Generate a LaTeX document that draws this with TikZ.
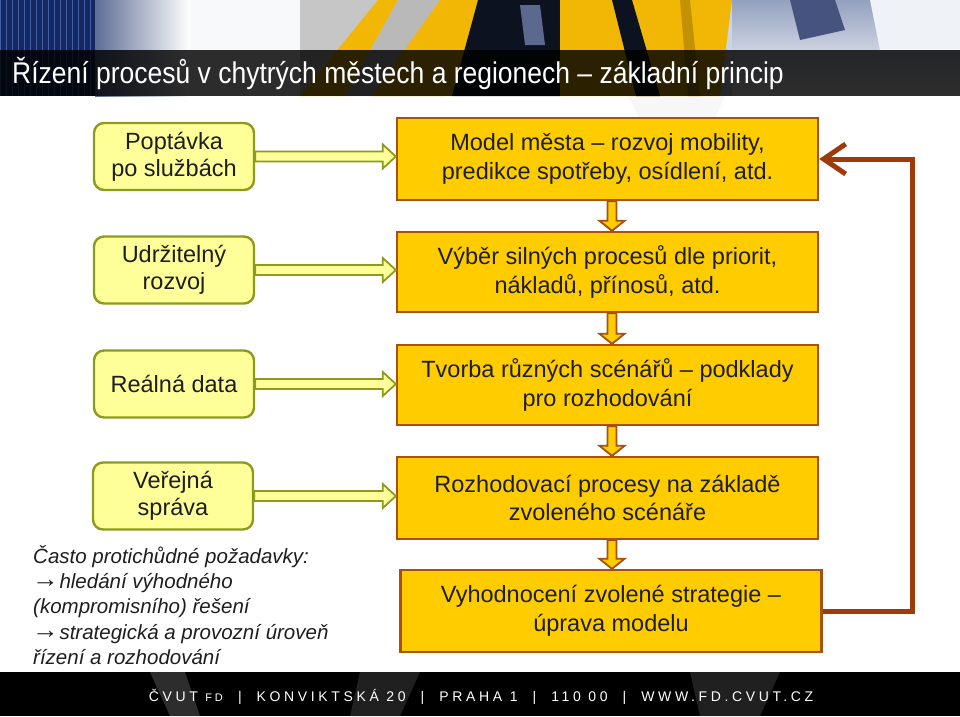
\documentclass[tikz,border=0pt]{standalone}
\usepackage{fontspec}
\usepackage{graphicx}
\setmainfont{Liberation Sans}
\usetikzlibrary{calc,arrows.meta}
\definecolor{orfill}{HTML}{FFCC00}
\definecolor{orline}{HTML}{A8500F}
\definecolor{gfill}{HTML}{FFFF99}
\definecolor{gline}{HTML}{8C9A1E}
\definecolor{fbcol}{HTML}{9E3B0B}
\definecolor{txt}{HTML}{1E1E1E}
\definecolor{navy}{HTML}{16285E}
\definecolor{gridblue}{HTML}{3F5FA6}
\definecolor{sky}{HTML}{C9D5E8}
\definecolor{ylw}{HTML}{F2B705}
\definecolor{dark}{HTML}{0D1220}
\newcommand{\myarr}{\hspace{-1pt}\raisebox{0.5pt}{\scalebox{1.3}[1.25]{\upshape →}}\hspace{-5pt}}
\tikzset{
 obox/.style={draw=orline, line width=2.4pt, fill=orfill, minimum width=421pt, minimum height=82pt, align=center, font=\fontsize{23.5}{28.5}\selectfont, text=txt, inner sep=0pt},
 gbox/.style={draw=gline, line width=2.4pt, fill=gfill, rounded corners=10pt, minimum width=160pt, minimum height=67pt, align=center, font=\fontsize{23.5}{27}\selectfont, text=txt, inner sep=0pt},
 harrow/.style={draw=gline, fill=gfill, line width=1.8pt, line join=miter},
 darrow/.style={draw=orline, fill=orfill, line width=1.8pt, line join=miter},
 fbline/.style={draw=fbcol, line width=5pt, line join=miter},
}
\begin{document}
\begin{tikzpicture}[x=1pt,y=-1pt]
\useasboundingbox (0,0) rectangle (960,716);
\fill[white] (0,0) rectangle (960,716);
% faint watermark shape
\fill[black!3] (628,96) -- (725,96) -- (700,150) -- (655,150) -- cycle;
% ---------- header ----------
\fill[sky] (0,0) rectangle (960,96);
\fill[navy] (0,0) rectangle (95,96);
\draw[gridblue, line width=0.6pt, step=6] (0,0) grid (95,96);
\shade[left color=navy!60!sky, right color=white] (95,0) rectangle (190,96);
\fill[white!85!sky] (190,0) rectangle (300,96);
\fill[gray!45] (300,0) -- (380,0) -- (300,96) -- cycle;
\fill[ylw] (300,96) -- (378,0) -- (398,0) -- (345,96) -- cycle;
\fill[gray!55] (398,0) -- (470,0) -- (445,96) -- (345,96) -- cycle;
\fill[ylw] (372,96) -- (440,0) -- (478,0) -- (452,96) -- cycle;
\fill[dark] (478,0) -- (560,0) -- (560,96) -- (452,96) -- cycle;
\fill[navy!70!white] (520,5) -- (540,5) -- (545,45) -- (525,45) -- cycle;
\fill[ylw] (560,0) -- (732,0) -- (720,96) -- (560,96) -- cycle;
\fill[dark] (612,0) -- (632,0) -- (660,96) -- (636,96) -- cycle;
\fill[ylw!80!black] (680,0) -- (690,0) -- (700,96) -- (688,96) -- cycle;
\shade[top color=sky!70!navy, bottom color=white] (732,0) rectangle (960,96);
\fill[navy!80!white] (790,0) -- (835,0) -- (845,30) -- (800,40) -- cycle;
\fill[white!70!sky] (870,0) -- (960,0) -- (960,50) -- (880,50) -- cycle;
\fill[black, opacity=0.82] (0,50) rectangle (960,96);
\node[anchor=base west, text=white, font=\fontsize{30}{30}\selectfont, inner sep=0pt] (title) at (12,83)
  {\scalebox{0.883}[1]{Řízení procesů v chytrých městech a regionech – základní princip}};
% ---------- footer ----------
\fill[black] (0,672) rectangle (960,716);
\fill[gray!60!black, opacity=0.6] (150,672) -- (185,672) -- (200,716) -- (170,716) -- cycle;
\fill[gray!50!black, opacity=0.5] (360,672) -- (420,672) -- (400,716) -- (350,716) -- cycle;
\fill[gray!50!black, opacity=0.5] (690,672) -- (780,672) -- (760,716) -- (700,716) -- cycle;
\node[text=white, font=\fontsize{14}{14}\selectfont\addfontfeature{LetterSpace=26}, inner sep=0pt] (foot) at (481,697)
  {ČVUT {\fontsize{11}{11}\selectfont FD} \ | \ KONVIKTSKÁ 20 \ | \ PRAHA 1 \ | \ 110 00 \ | \ WWW.FD.CVUT.CZ};
% ---------- orange boxes ----------
\node[obox] (A) at (607.5,159) {Model města – rozvoj mobility,\\predikce spotřeby, osídlení, atd.};
\node[obox, minimum height=80pt] (B) at (607.5,272) {Výběr silných procesů dle priorit,\\nákladů, přínosů, atd.};
\node[obox, minimum height=80pt] (C) at (607.5,385) {Tvorba různých scénářů – podklady\\pro rozhodování};
\node[obox] (D) at (607.5,498) {Rozhodovací procesy na základě\\zvoleného scénáře};
\node[obox] (E) at (611,611) {Vyhodnocení zvolené strategie –\\úprava modelu};
% ---------- left boxes ----------
\node[gbox] (L1) at (174,156.5) {Poptávka\\po službách};
\node[gbox] (L2) at (174,270) {Udržitelný\\rozvoj};
\node[gbox] (L3) at (174,384) {Reálná data};
\node[gbox] (L4) at (173,496) {Veřejná\\správa};
% ---------- hollow arrows ----------
\foreach \s/\t in {L1/A, L2/B, L3/C, L4/D}{
  \draw[harrow] let \p1=(\s.east), \p2=(\t.west) in
    (\x1,{\y1+5pt}) -- ({\x2-13pt},{\y1+5pt}) -- ({\x2-13pt},{\y1+12pt}) -- (\x2,\y1)
    -- ({\x2-13pt},{\y1-12pt}) -- ({\x2-13pt},{\y1-5pt}) -- (\x1,{\y1-5pt}) -- cycle;
}
% ---------- down arrows ----------
\foreach \s/\t in {A/B, B/C, C/D, D/E}{
  \draw[darrow] let \p1=($(\s.south)+(4.5,0)$), \p2=(\t.north) in
    ({\x1-4.5pt},\y1) -- ({\x1-4.5pt},{\y2+10pt}) -- ({\x1-12.5pt},{\y2+10pt}) -- (\x1,\y2)
    -- ({\x1+12.5pt},{\y2+10pt}) -- ({\x1+4.5pt},{\y2+10pt}) -- ({\x1+4.5pt},\y1) -- cycle;
}
% ---------- feedback ----------
\coordinate (fbx) at (912,0);
\draw[fbline, -{Straight Barb[length=22pt,width=30pt]}] (E.east) -- (E.east -| fbx) -- (A.east -| fbx) -- (A.east);
% ---------- note ----------
\node[anchor=north west, align=left, font=\fontsize{20.5}{25.3}\selectfont\itshape, text=txt, inner sep=0pt] (note) at (33,545)
  {Často protichůdné požadavky:\\\myarr{} hledání výhodného\\(kompromisního) řešení\\\myarr{} strategická a provozní úroveň\\řízení a rozhodování};
\end{tikzpicture}
\end{document}
